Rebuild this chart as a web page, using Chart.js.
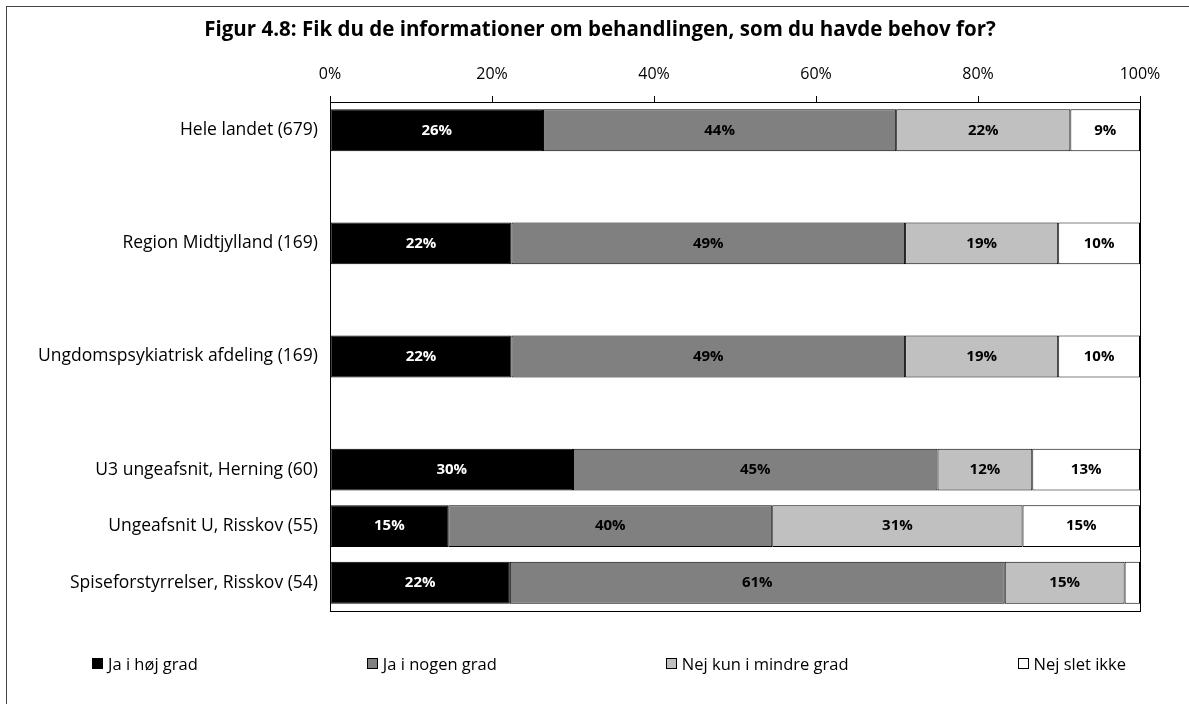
<!DOCTYPE html>
<html lang="da">
<head>
    <meta charset="UTF-8">
    <title>Figur 4.8</title>
    <script src="https://cdn.jsdelivr.net/npm/chart.js"></script>
    <style>
        html, body { margin: 0; padding: 0; background: #fff; overflow: hidden; }
        #wrap { position: relative; width: 1189px; height: 704px; }
        #frame {
            position: absolute; left: 6px; top: 6px; width: 1300px; height: 800px;
            border: 1px solid #444; box-sizing: border-box;
        }
        #legend {
            position: absolute; left: 92px; width: 1034px; top: 652px;
            display: flex; justify-content: space-between; align-items: center;
            font-family: "Open Sans", sans-serif; font-size: 16.5px; color: #000;
        }
        .item { display: flex; align-items: center; white-space: nowrap; }
        .box { width: 9px; height: 9px; border: 1px solid #000; margin-right: 5px; }
    </style>
</head>
<body>
<div id="wrap">
    <div id="frame"></div>
    <canvas id="chart" width="1189" height="704"></canvas>
    <div id="legend"></div>
</div>
<script>
    const categories = [
        'Hele landet (679)', '',
        'Region Midtjylland (169)', '',
        'Ungdomspsykiatrisk afdeling (169)', '',
        'U3 ungeafsnit, Herning (60)',
        'Ungeafsnit U, Risskov (55)',
        'Spiseforstyrrelser, Risskov (54)'
    ];
    const seriesNames = ['Ja i høj grad', 'Ja i nogen grad', 'Nej kun i mindre grad', 'Nej slet ikke'];
    const jaHoej    = [26.3, null, 22.4, null, 22.4, null, 30.0, 14.6, 22.2];
    const jaNogen   = [43.6, null, 48.6, null, 48.6, null, 45.0, 40.0, 61.1];
    const nejMindre = [21.5, null, 18.9, null, 18.9, null, 11.7, 30.9, 14.8];
    const nejSlet   = [8.6,  null, 10.1, null, 10.1, null, 13.3, 14.5, 1.9];
    const xTicks = [0, 20, 40, 60, 80, 100];

    const colors = ['#000000', '#808080', '#c0c0c0', '#ffffff'];
    const labelColors = ['#ffffff', '#000000', '#000000', '#000000'];
    const seriesData = [jaHoej, jaNogen, nejMindre, nejSlet];

    const FONT = '"Open Sans", sans-serif';

    // percentages inside the bars
    const barLabels = {
        id: 'barLabels',
        afterDatasetsDraw(chart) {
            const ctx = chart.ctx;
            ctx.save();
            ctx.font = 'bold 15px ' + FONT;
            ctx.textAlign = 'center';
            ctx.textBaseline = 'middle';
            chart.data.datasets.forEach((ds, i) => {
                chart.getDatasetMeta(i).data.forEach((bar, j) => {
                    const v = ds.data[j];
                    if (v == null || v < 3) return;
                    const p = bar.getProps(['x', 'y', 'base'], true);
                    ctx.fillStyle = labelColors[i];
                    ctx.fillText(Math.round(v) + '%', (p.x + p.base) / 2, p.y);
                });
            });
            ctx.restore();
        }
    };

    // box round the plot area; title centred a bit right like the original
    const plotBox = {
        id: 'plotBox',
        afterLayout(chart) {
            if (chart.titleBlock) chart.titleBlock.left = 60;
        },
        afterDatasetsDraw(chart) {
            const a = chart.chartArea;
            const ctx = chart.ctx;
            ctx.save();
            ctx.strokeStyle = '#000';
            ctx.lineWidth = 1;
            ctx.strokeRect(Math.round(a.left) + 0.5, Math.round(a.top) + 0.5,
                Math.round(a.right - a.left), Math.round(a.bottom - a.top));
            ctx.restore();
        }
    };

    const chart = new Chart(document.getElementById('chart'), {
        type: 'bar',
        data: {
            labels: categories,
            datasets: seriesNames.map((name, i) => ({
                label: name,
                data: seriesData[i],
                backgroundColor: colors[i],
                borderColor: '#000',
                borderWidth: 1,
                borderSkipped: false,
                barPercentage: 0.74,
                categoryPercentage: 1
            }))
        },
        plugins: [barLabels, plotBox],
        options: {
            indexAxis: 'y',
            responsive: false,
            animation: false,
            layout: { padding: { left: 10, right: 49, top: 0, bottom: 93 } },
            plugins: {
                legend: { display: false },
                tooltip: { enabled: false },
                title: {
                    display: true,
                    text: 'Figur 4.8: Fik du de informationer om behandlingen, som du havde behov for?',
                    color: '#000',
                    font: { family: FONT, size: 20.5, weight: 'bold' },
                    padding: { top: 18, bottom: 9 }
                }
            },
            scales: {
                x: {
                    position: 'top',
                    stacked: true,
                    min: 0,
                    max: 100,
                    afterBuildTicks(scale) { scale.ticks = xTicks.map(v => ({ value: v })); },
                    afterFit(scale) { scale.height = 50.4; },
                    grid: { drawOnChartArea: false, drawTicks: true, tickLength: 6, color: '#000' },
                    border: { display: true, color: '#000' },
                    ticks: {
                        padding: 12,
                        color: '#000',
                        font: { family: FONT, size: 16 },
                        callback: v => v + '%'
                    }
                },
                y: {
                    stacked: true,
                    afterFit(scale) { scale.width = 320; },
                    grid: { display: false, drawTicks: false },
                    border: { display: true, color: '#000' },
                    ticks: {
                        padding: 12,
                        color: '#000',
                        font: { family: FONT, size: 17.5 }
                    }
                }
            }
        }
    });

    // legend from the chart's own legend items
    const legendEl = document.getElementById('legend');
    Chart.defaults.plugins.legend.labels.generateLabels(chart).forEach(item => {
        const div = document.createElement('div');
        div.className = 'item';
        const box = document.createElement('span');
        box.className = 'box';
        box.style.background = item.fillStyle;
        const txt = document.createElement('span');
        txt.textContent = item.text;
        div.appendChild(box);
        div.appendChild(txt);
        legendEl.appendChild(div);
    });
</script>
</body>
</html>
